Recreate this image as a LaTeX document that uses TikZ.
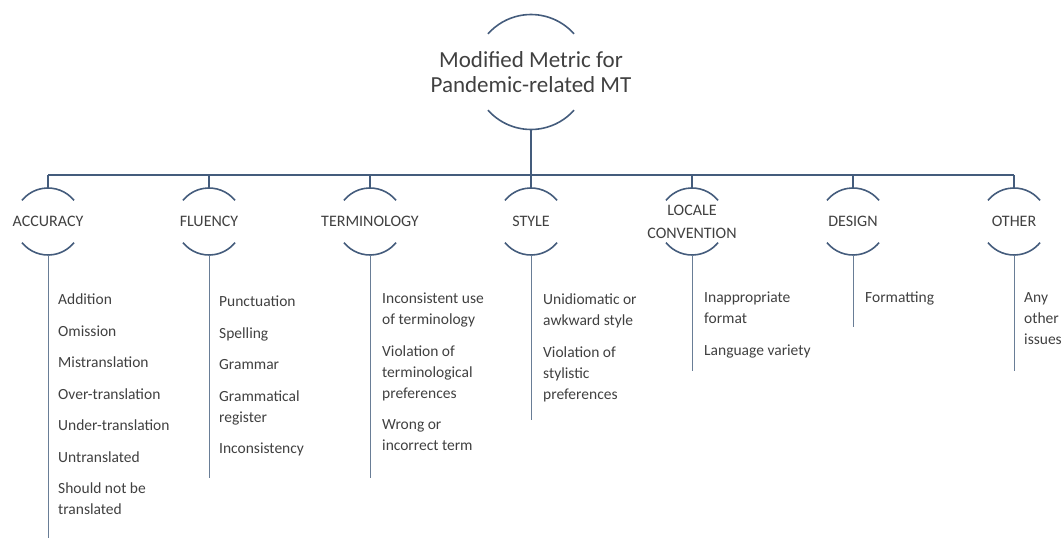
\documentclass[tikz,border=0pt]{standalone}
\usepackage{fontspec}
\setmainfont{Carlito}
\usetikzlibrary{positioning,calc}
\definecolor{metricBlue}{RGB}{68,92,124}
\definecolor{metricText}{RGB}{64,64,64}
\newcommand{\itemgap}{\\[10.5pt]}

\begin{document}
\begin{tikzpicture}[
    x=1pt, y=1pt,
    title/.style={font=\fontsize{23}{25}\selectfont, text=metricText,
      align=center, inner sep=0pt},
    cat/.style={font=\fontsize{16}{23}\selectfont, text=metricText,
      align=center, inner sep=0pt},
    items/.style={font=\fontsize{15.5}{21}\selectfont, text=metricText,
      align=left, inner sep=0pt, anchor=north west},
    arcline/.style={draw=metricBlue, line width=1.6pt},
    link/.style={draw=metricBlue, line width=1.3pt},
    stem/.style={draw=metricBlue!80, line width=1pt}
  ]
  \useasboundingbox (0,0) rectangle (1064,-541);
  % root
  \node[title] (root) at (531,-72) {Modified Metric for\\Pandemic-related MT};
  \draw[arcline] ([shift={(41.6:57.5)}]root.center) arc[start angle=41.6, end angle=138.4, radius=57.5];
  \draw[arcline] ([shift={(221.6:57.5)}]root.center) arc[start angle=221.6, end angle=318.4, radius=57.5];
  \coordinate (bus) at (531,-175);
  \draw[link] ([yshift=-57.5pt]root.center) -- (bus);
  % categories
  \foreach \name/\catlabel/\stemend [count=\i] in {acc/ACCURACY/538, flu/FLUENCY/478,
      ter/TERMINOLOGY/478, sty/STYLE/420, loc/{LOCALE\\CONVENTION}/371,
      des/DESIGN/327, oth/OTHER/371}{
    \node[cat] (\name) at ({48+161*(\i-1)},-221.5) {\catlabel};
    \draw[arcline] ([shift={(39:33.5)}]\name.center) arc[start angle=39, end angle=141, radius=33.5];
    \draw[arcline] ([shift={(219:33.5)}]\name.center) arc[start angle=219, end angle=321, radius=33.5];
    \draw[link] ([yshift=33.5pt]\name.center) -- (\name.center |- bus);
    \coordinate (\name-end) at (\name.center |- 0,-\stemend);
    \draw[stem] ([yshift=-33.5pt]\name.center) -- (\name-end);
  }
  \draw[link] (acc.center |- bus) -- (oth.center |- bus);
  % lists
  \node[items] (acc-list) at (58,-294) {Addition\itemgap Omission\itemgap Mistranslation\itemgap
    Over-translation\itemgap Under-translation\itemgap Untranslated\itemgap
    Should not be\\translated};
  \node[items] (flu-list) at (219,-296) {Punctuation\itemgap Spelling\itemgap Grammar\itemgap
    Grammatical\\register\itemgap Inconsistency};
  \node[items] (ter-list) at (382,-293) {Inconsistent use\\of terminology\itemgap
    Violation of\\terminological\\preferences\itemgap Wrong or\\incorrect term};
  \node[items] (sty-list) at (543,-294) {Unidiomatic or\\awkward style\itemgap
    Violation of\\stylistic\\preferences};
  \node[items] (loc-list) at (704,-292) {Inappropriate\\format\itemgap Language variety};
  \node[items] (des-list) at (865,-292) {Formatting};
  \node[items] (oth-list) at (1024,-292) {Any\\other\\issues};
\end{tikzpicture}
\end{document}
